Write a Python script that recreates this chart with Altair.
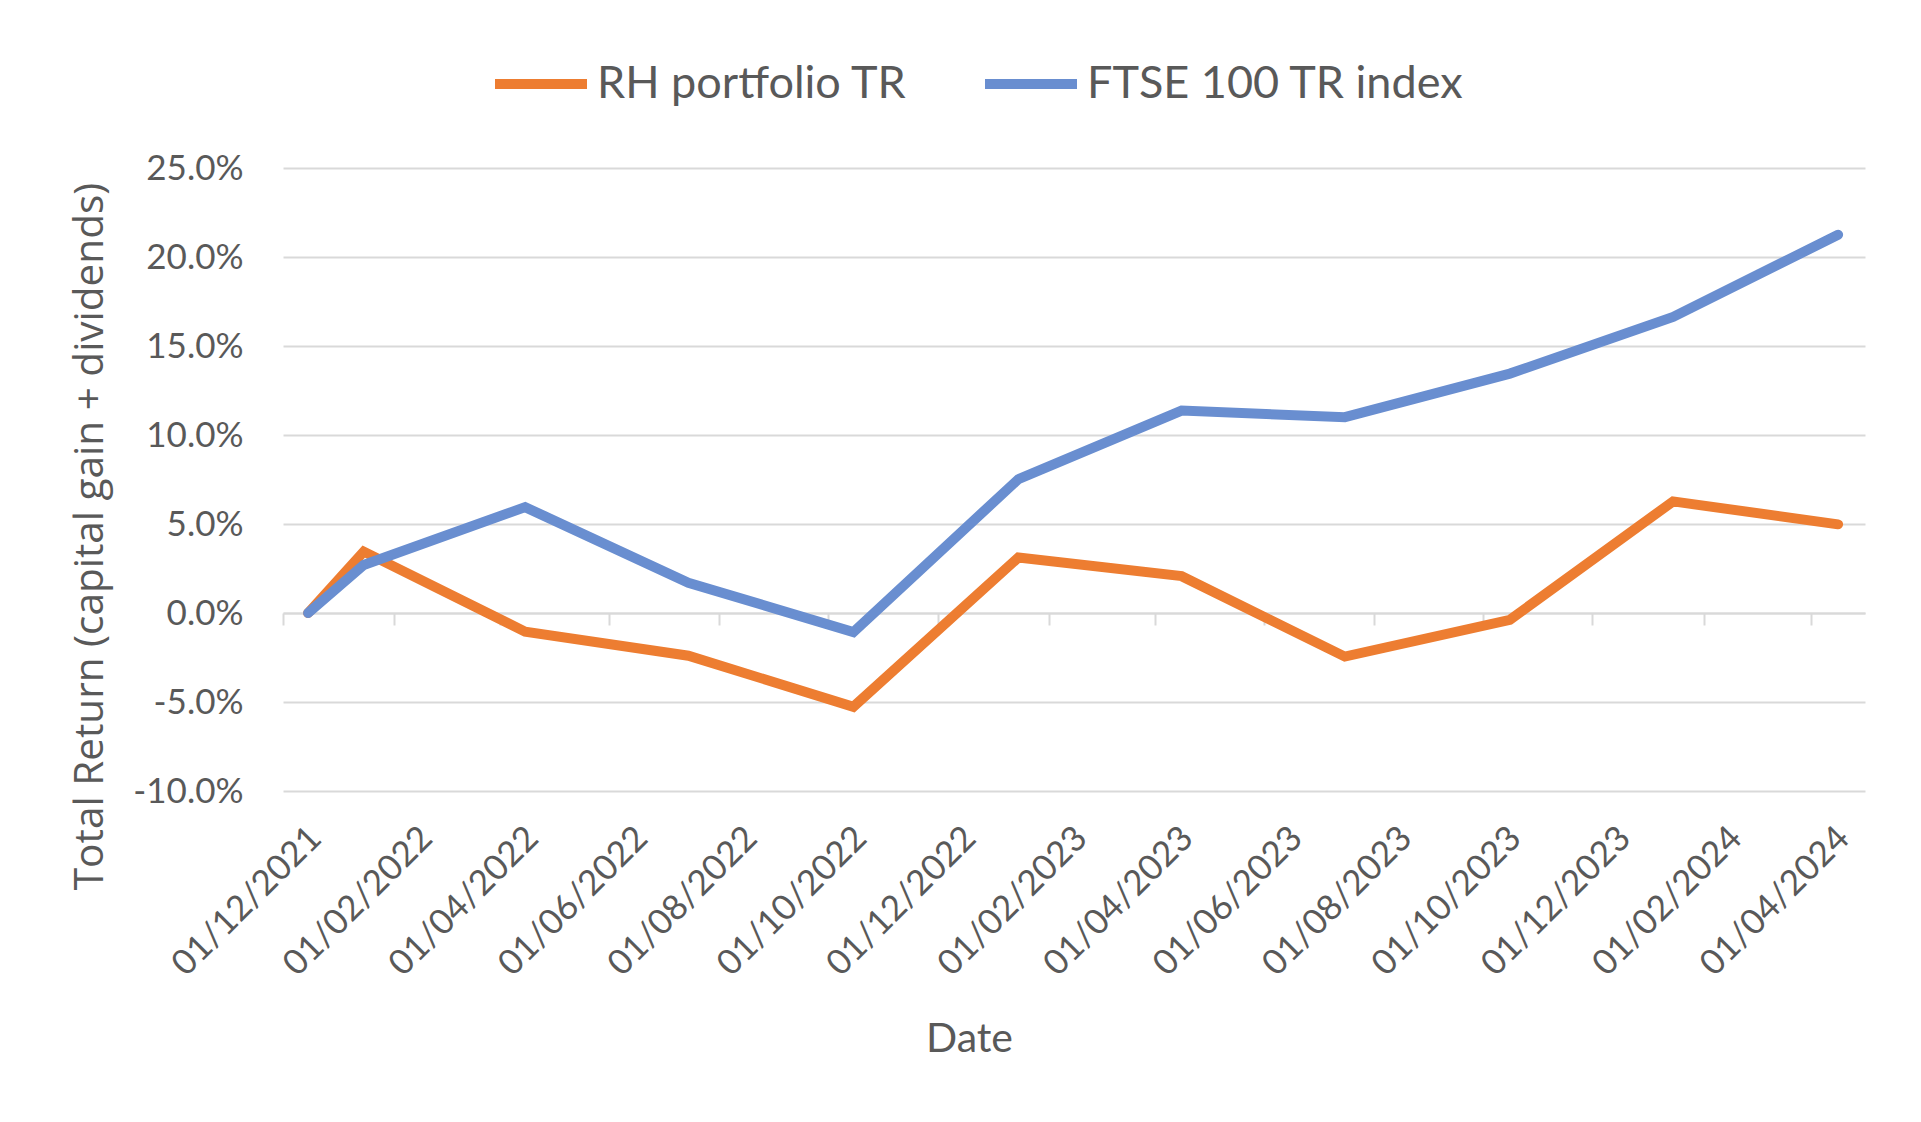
import altair as alt
import pandas as pd

# ---- data ----
dates = ["2021-12-15", "2022-01-15", "2022-04-15", "2022-07-15", "2022-10-15",
         "2023-01-15", "2023-04-16", "2023-07-16", "2023-10-16", "2024-01-15", "2024-04-16"]
rh_portfolio = [0.0, 3.45, -1.05, -2.4, -5.27, 3.12, 2.07, -2.45, -0.38, 6.27, 4.98]
ftse_100 = [0.0, 2.7, 5.95, 1.7, -1.07, 7.52, 11.37, 11.0, 13.45, 16.63, 21.25]

series_names = ["RH portfolio TR", "FTSE 100 TR index"]
series_colors = ["#ED7D31", "#698ED0"]

y_ticks = [-10, -5, 0, 5, 10, 15, 20, 25]
x_tick_dates = [(2021, 12), (2022, 2), (2022, 4), (2022, 6), (2022, 8), (2022, 10), (2022, 12),
                (2023, 2), (2023, 4), (2023, 6), (2023, 8), (2023, 10), (2023, 12),
                (2024, 2), (2024, 4)]

rows = []
for name, vals in zip(series_names, [rh_portfolio, ftse_100]):
    for d, v in zip(dates, vals):
        rows.append({"date": d + "T00:00:00", "value": v, "series": name})
df = pd.DataFrame(rows)

TEXT = "#595959"
GRID = "#D9D9D9"

x_enc = alt.X(
    "date:T",
    scale=alt.Scale(domain=[alt.DateTime(year=2021, month=12, date=1),
                            alt.DateTime(year=2024, month=5, date=1)], nice=False),
    axis=alt.Axis(
        values=[alt.DateTime(year=y, month=m, date=1) for y, m in x_tick_dates],
        format="%d/%m/%Y",
        title="Date",
        titleFont="Lato", titleFontSize=41, titleFontWeight="normal", titleColor=TEXT,
        titleX=686, titleY=438, titleAnchor="start", titleAlign="center", titleBaseline="alphabetic",
        labelFont="Lato", labelFontSize=35, labelColor=TEXT, labelLimit=1000,
        labelAngle=315, labelAlign="right", labelBaseline="middle",
        labelOffset=32, labelPadding=207, labelOverlap=False, labelFlush=False, labelBound=False,
        ticks=True, tickSize=12, tickColor=GRID, tickWidth=2,
        domain=True, domainColor=GRID, domainWidth=2,
        grid=False, offset=-178,
    ),
)

y_enc = alt.Y(
    "value:Q",
    scale=alt.Scale(domain=[-10, 25], nice=False, zero=False),
    axis=alt.Axis(
        values=y_ticks,
        labelExpr="replace(format(datum.value, '.1f'), '\u2212', '-') + '%'",
        title="Total Return (capital gain + dividends)",
        titleFont="Open Sans", titleFontSize=40.5, titleFontWeight="normal", titleColor=TEXT,
        titleAngle=270, titleX=-181, titleY=368, titleAlign="center", titleBaseline="alphabetic",
        titleLimit=2000,
        labelFont="Lato", labelFontSize=35, labelColor=TEXT,
        labelPadding=40, labelAlign="right", labelBaseline="middle",
        ticks=False, tickSize=0, domain=False,
        grid=True, gridColor=GRID, gridWidth=2,
    ),
)

color_enc = alt.Color(
    "series:N",
    scale=alt.Scale(domain=series_names, range=series_colors),
    sort=series_names,
    legend=alt.Legend(
        title=None, orient="none", direction="horizontal",
        legendX=207, legendY=-135, padding=0,
        symbolType="stroke", symbolSize=8464, symbolStrokeWidth=10,
        labelFont="Lato", labelFontSize=45, labelColor=TEXT, labelOffset=5,
        columnPadding=57, labelLimit=1000,
    ),
)

chart = (
    alt.Chart(df)
    .mark_line(strokeWidth=10, strokeCap="round", strokeJoin="miter")
    .encode(x=x_enc, y=y_enc, color=color_enc, order=alt.Order("date:T"))
    .properties(
        width=1582, height=623,
        autosize=alt.AutoSizeParams(type="none"),
        padding={"left": 275, "top": 160, "right": 48, "bottom": 300},
        background="white",
    )
    .configure_view(stroke=None)
)

chart.save("out.html", embed_options={"renderer": "svg", "actions": False})
